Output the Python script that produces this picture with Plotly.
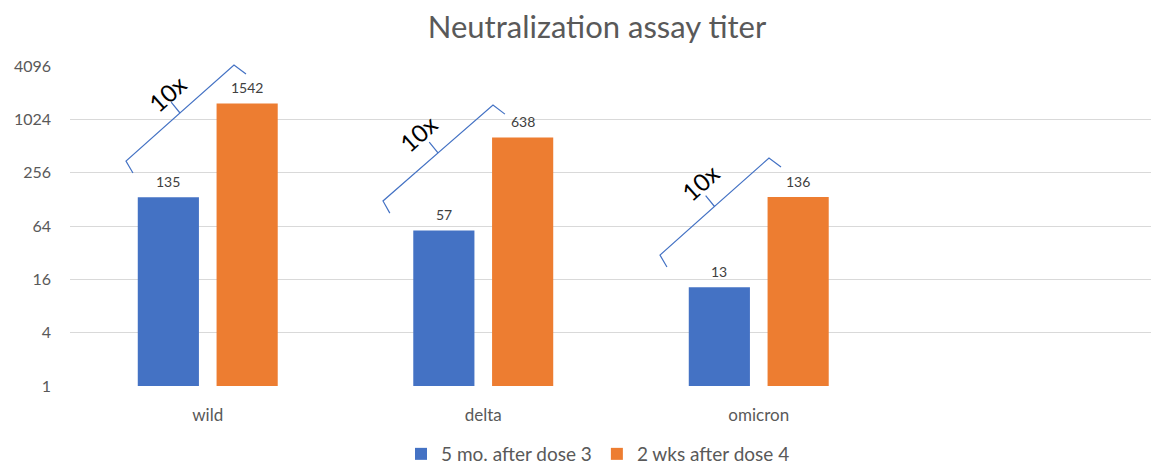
import math
import plotly.graph_objects as go

# ---- data ----
categories = ["wild", "delta", "omicron"]
series_names = ["5 mo. after dose 3", "2 wks after dose 4"]
dose3_5mo = [135, 57, 13]
dose4_2wk = [1542, 638, 136]
y_ticks = [1, 4, 16, 64, 256, 1024, 4096]
fold_label = "10x"

# ---- layout constants (page pixels; the html body adds an 8px offset) ----
OFF = 8
W, H = 1159 - OFF, 465 - OFF
PL, PT, PB, PR = 70, 66, 386, 1159          # plot area in page pixels
ML, MT = PL - OFF, PT - OFF
MB = H - (PB - OFF)
MR = W - (PR - OFF)
PW, PH = PR - PL, PB - PT
FONT = "Lato"
BLUE, ORANGE = "#4472C4", "#ED7D31"
BAR_W = 0.222
OFFS = [-0.254, 0.032]
CAT_PX = 275.5

fig = go.Figure()
for name, vals, col, off in zip(series_names, [dose3_5mo, dose4_2wk], [BLUE, ORANGE], OFFS):
    fig.add_trace(go.Bar(
        x=list(range(len(categories))), y=vals, name=name,
        marker=dict(color=col, line=dict(width=0)),
        width=BAR_W, offset=off,
    ))
    for i, v in enumerate(vals):
        fig.add_annotation(
            x=i + off + BAR_W / 2, y=math.log10(v), xref="x", yref="y",
            text=str(v), showarrow=False, yanchor="middle", yshift=16,
            font=dict(family=FONT, size=14, color="#404040"),
        )

# ---- braces (decorations, page-pixel geometry -> paper coords) ----
def p2paper(px, py):
    return (px - PL) / PW, (PB - py) / PH

braces = [((126, 161), (234, 65), (167, 93)),
          ((383, 201), (493, 105), (418, 133)),
          ((660, 255), (769, 158), (700, 182))]
for (L, R, T) in braces:
    dx, dy = R[0] - L[0], R[1] - L[1]
    ln = math.hypot(dx, dy)
    u = (dx / ln, dy / ln)
    n = (u[1], -u[0])  # outward (up-left)
    def pt(base, a, b):
        return (base[0] + a * u[0] + b * n[0], base[1] + a * u[1] + b * n[1])
    mid = ((L[0] + R[0]) / 2, (L[1] + R[1]) / 2)
    pts = [pt(L, -2.8, -13.6), L, mid, pt(mid, 0.6, 14), mid, R, pt(R, 3, -14.7)]
    pp = [p2paper(*p) for p in pts]
    path = "M " + " L ".join(f"{x:.5f},{y:.5f}" for x, y in pp)
    fig.add_shape(type="path", path=path, xref="paper", yref="paper",
                  line=dict(color=BLUE, width=1.2))
    tx, ty = p2paper(*T)
    fig.add_annotation(x=tx, y=ty, xref="paper", yref="paper", text=fold_label,
                       showarrow=False, textangle=-42, xanchor="center", yanchor="middle",
                       font=dict(family=FONT, size=24, color="#000000"))

fig.update_layout(
    width=W, height=H,
    margin=dict(l=ML, r=MR, t=MT, b=MB, pad=0, autoexpand=False),
    paper_bgcolor="white", plot_bgcolor="white",
    title=dict(text="Neutralization assay titer", x=(597 - OFF) / W, xref="container",
               xanchor="center", y=1 - (27 - OFF) / H, yref="container", yanchor="middle",
               font=dict(family=FONT, size=31, color="#595959")),
    barmode="overlay",
    showlegend=True,
    legend=dict(orientation="h", x=(598 - PL) / PW, xanchor="center", y=(PB - 454) / PH,
                yanchor="middle", font=dict(family=FONT, size=19, color="#595959"),
                itemwidth=30, tracegroupgap=0, bgcolor="rgba(0,0,0,0)"),
    font=dict(family=FONT),
)
fig.update_xaxes(
    tickmode="array", tickvals=list(range(len(categories))), ticktext=categories,
    range=[-0.5, -0.5 + PW / CAT_PX], showgrid=False, zeroline=False, showline=False,
    ticks="", ticklabelstandoff=17, automargin=False,
    tickfont=dict(family=FONT, size=17, color="#595959"), fixedrange=True,
)
fig.update_yaxes(
    type="log", range=[0, math.log10(4096)], tickmode="array", tickvals=y_ticks,
    ticktext=[str(t) for t in y_ticks], showgrid=True, gridcolor="#D9D9D9", gridwidth=1,
    zeroline=False, showline=False, ticks="", ticklabelstandoff=18, automargin=False,
    tickfont=dict(family=FONT, size=16, color="#595959"),
)
fig.write_html("out.html")
